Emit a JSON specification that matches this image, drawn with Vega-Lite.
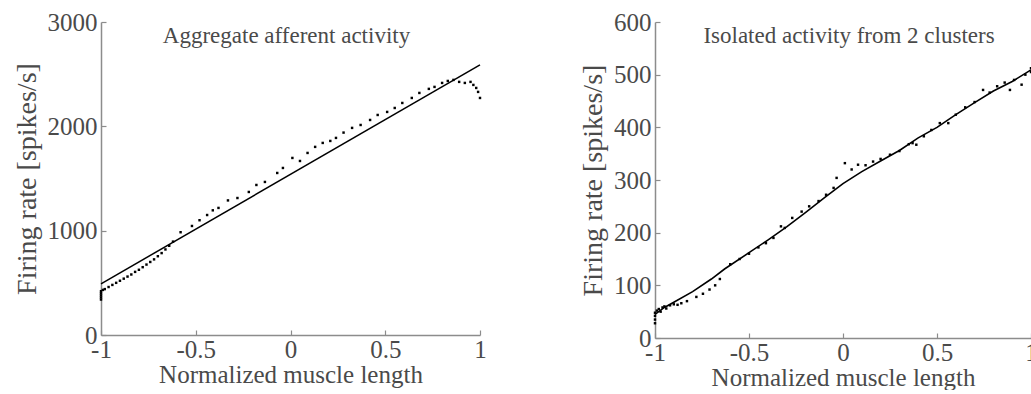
{
  "$schema": "https://vega.github.io/schema/vega-lite/v6.json",
  "background": "white",
  "padding": {"left": 13, "top": 10, "right": 0, "bottom": 0},
  "bounds": "flush",
  "spacing": 175,
  "config": {
    "view": {"stroke": null},
    "font": "Liberation Serif",
    "axis": {
      "grid": false,
      "domainColor": "#8c8c8c",
      "domainWidth": 1.5,
      "tickColor": "#8c8c8c",
      "tickWidth": 1.2,
      "tickSize": -5,
      "labelFont": "Liberation Serif",
      "labelFontSize": 25,
      "labelColor": "#4a4a4a",
      "labelFlush": false,
      "labelOverlap": false,
      "labelBound": false,
      "titleFont": "Liberation Serif",
      "titleFontWeight": "normal",
      "titleColor": "#4a4a4a"
    },
    "axisX": {"labelPadding": 7, "titleFontSize": 25, "titlePadding": 0, "labelExpr": "replace(datum.label, '\u2212', '-')"},
    "axisY": {"labelPadding": 9, "titleFontSize": 28, "titlePadding": 6},
    "title": {
      "font": "Liberation Serif",
      "fontSize": 23,
      "fontWeight": "normal",
      "color": "#4a4a4a",
      "anchor": "middle",
      "baseline": "top",
      "offset": -38
    }
  },
  "datasets": {
    "aggregateDots": [
      {"length": -1.0, "rate": 340}, {"length": -1.0, "rate": 360}, {"length": -1.0, "rate": 380},
      {"length": -1.0, "rate": 400}, {"length": -1.0, "rate": 420}, {"length": -0.99, "rate": 432},
      {"length": -0.98, "rate": 440}, {"length": -0.96, "rate": 460}, {"length": -0.94, "rate": 480},
      {"length": -0.92, "rate": 500}, {"length": -0.9, "rate": 520}, {"length": -0.88, "rate": 540},
      {"length": -0.86, "rate": 560}, {"length": -0.84, "rate": 580}, {"length": -0.82, "rate": 605},
      {"length": -0.8, "rate": 625}, {"length": -0.78, "rate": 650}, {"length": -0.76, "rate": 675},
      {"length": -0.74, "rate": 700}, {"length": -0.72, "rate": 725}, {"length": -0.7, "rate": 755},
      {"length": -0.68, "rate": 785}, {"length": -0.66, "rate": 820}, {"length": -0.64, "rate": 855},
      {"length": -0.62, "rate": 895}, {"length": -0.58, "rate": 985}, {"length": -0.52, "rate": 1045},
      {"length": -0.48, "rate": 1100}, {"length": -0.44, "rate": 1150}, {"length": -0.41, "rate": 1195},
      {"length": -0.38, "rate": 1218}, {"length": -0.33, "rate": 1290}, {"length": -0.28, "rate": 1313},
      {"length": -0.22, "rate": 1371}, {"length": -0.18, "rate": 1438}, {"length": -0.135, "rate": 1467},
      {"length": -0.07, "rate": 1553}, {"length": -0.04, "rate": 1601}, {"length": 0.01, "rate": 1697},
      {"length": 0.05, "rate": 1668}, {"length": 0.09, "rate": 1745}, {"length": 0.13, "rate": 1803},
      {"length": 0.17, "rate": 1841}, {"length": 0.21, "rate": 1860}, {"length": 0.24, "rate": 1889},
      {"length": 0.28, "rate": 1940}, {"length": 0.325, "rate": 1985}, {"length": 0.37, "rate": 2013},
      {"length": 0.42, "rate": 2061}, {"length": 0.46, "rate": 2109}, {"length": 0.51, "rate": 2138},
      {"length": 0.55, "rate": 2176}, {"length": 0.59, "rate": 2224}, {"length": 0.64, "rate": 2272},
      {"length": 0.68, "rate": 2320}, {"length": 0.73, "rate": 2359}, {"length": 0.76, "rate": 2378},
      {"length": 0.8, "rate": 2416}, {"length": 0.83, "rate": 2435}, {"length": 0.86, "rate": 2445},
      {"length": 0.89, "rate": 2426}, {"length": 0.92, "rate": 2416}, {"length": 0.95, "rate": 2426},
      {"length": 0.965, "rate": 2397}, {"length": 0.98, "rate": 2368}, {"length": 0.99, "rate": 2330},
      {"length": 1.0, "rate": 2272}
    ],
    "aggregateFit": [
      {"length": -1.0, "rate": 490},
      {"length": 1.0, "rate": 2590}
    ],
    "clusterDots": [
      {"length": -1.0, "rate": 28}, {"length": -1.0, "rate": 35}, {"length": -1.0, "rate": 42},
      {"length": -1.0, "rate": 48}, {"length": -0.99, "rate": 52}, {"length": -0.98, "rate": 55},
      {"length": -0.97, "rate": 50}, {"length": -0.96, "rate": 58}, {"length": -0.95, "rate": 60},
      {"length": -0.94, "rate": 56}, {"length": -0.92, "rate": 62}, {"length": -0.9, "rate": 64},
      {"length": -0.88, "rate": 63}, {"length": -0.86, "rate": 66}, {"length": -0.83, "rate": 70},
      {"length": -0.78, "rate": 78}, {"length": -0.745, "rate": 84}, {"length": -0.71, "rate": 92},
      {"length": -0.68, "rate": 100}, {"length": -0.655, "rate": 112}, {"length": -0.6, "rate": 140},
      {"length": -0.55, "rate": 150}, {"length": -0.5, "rate": 160}, {"length": -0.45, "rate": 172},
      {"length": -0.41, "rate": 180}, {"length": -0.37, "rate": 190}, {"length": -0.33, "rate": 212},
      {"length": -0.31, "rate": 209}, {"length": -0.27, "rate": 228}, {"length": -0.22, "rate": 240},
      {"length": -0.18, "rate": 250}, {"length": -0.13, "rate": 260}, {"length": -0.09, "rate": 272},
      {"length": -0.05, "rate": 285}, {"length": -0.034, "rate": 304}, {"length": 0.01, "rate": 332},
      {"length": 0.046, "rate": 320}, {"length": 0.08, "rate": 329}, {"length": 0.12, "rate": 328},
      {"length": 0.16, "rate": 335}, {"length": 0.2, "rate": 340}, {"length": 0.25, "rate": 348},
      {"length": 0.3, "rate": 355}, {"length": 0.35, "rate": 368}, {"length": 0.37, "rate": 370},
      {"length": 0.39, "rate": 367}, {"length": 0.43, "rate": 383}, {"length": 0.47, "rate": 395},
      {"length": 0.515, "rate": 408}, {"length": 0.56, "rate": 408}, {"length": 0.6, "rate": 424},
      {"length": 0.65, "rate": 438}, {"length": 0.7, "rate": 448}, {"length": 0.745, "rate": 471},
      {"length": 0.78, "rate": 466}, {"length": 0.82, "rate": 478}, {"length": 0.86, "rate": 485},
      {"length": 0.888, "rate": 471}, {"length": 0.91, "rate": 490}, {"length": 0.95, "rate": 481},
      {"length": 0.97, "rate": 500}, {"length": 1.0, "rate": 505}, {"length": 1.0, "rate": 512}
    ],
    "clusterTrend": [
      {"length": -1.0, "rate": 45}, {"length": -0.95, "rate": 58}, {"length": -0.9, "rate": 68},
      {"length": -0.8, "rate": 88}, {"length": -0.7, "rate": 112}, {"length": -0.63, "rate": 131},
      {"length": -0.5, "rate": 162}, {"length": -0.4, "rate": 186}, {"length": -0.3, "rate": 211},
      {"length": -0.2, "rate": 238}, {"length": -0.1, "rate": 266}, {"length": 0.0, "rate": 293},
      {"length": 0.1, "rate": 316}, {"length": 0.2, "rate": 336}, {"length": 0.3, "rate": 356},
      {"length": 0.4, "rate": 380}, {"length": 0.5, "rate": 400}, {"length": 0.6, "rate": 424},
      {"length": 0.7, "rate": 447}, {"length": 0.8, "rate": 469}, {"length": 0.9, "rate": 487},
      {"length": 1.0, "rate": 509}
    ]
  },
  "hconcat": [
    {
      "width": 379,
      "height": 313,
      "title": {"text": "Aggregate afferent activity", "dx": -4},
      "layer": [
        {
          "data": {"name": "aggregateFit"},
          "mark": {"type": "line", "color": "black", "strokeWidth": 1.5},
          "encoding": {
            "x": {"field": "length", "type": "quantitative"},
            "y": {"field": "rate", "type": "quantitative"}
          }
        },
        {
          "data": {"name": "aggregateDots"},
          "mark": {"type": "square", "color": "black", "size": 6, "opacity": 1},
          "encoding": {
            "x": {
              "field": "length", "type": "quantitative",
              "scale": {"domain": [-1, 1], "nice": false, "zero": false},
              "axis": {"title": "Normalized muscle length", "values": [-1, -0.5, 0, 0.5, 1], "format": "~g"}
            },
            "y": {
              "field": "rate", "type": "quantitative",
              "scale": {"domain": [0, 3000], "nice": false},
              "axis": {"title": "Firing rate [spikes/s]", "values": [0, 1000, 2000, 3000], "format": "d"}
            }
          }
        }
      ]
    },
    {
      "width": 376,
      "height": 316,
      "title": {"text": "Isolated activity from 2 clusters", "dx": 6},
      "layer": [
        {
          "data": {"name": "clusterTrend"},
          "mark": {"type": "line", "color": "black", "strokeWidth": 1.6},
          "encoding": {
            "x": {"field": "length", "type": "quantitative"},
            "y": {"field": "rate", "type": "quantitative"}
          }
        },
        {
          "data": {"name": "clusterDots"},
          "mark": {"type": "square", "color": "black", "size": 6, "opacity": 1},
          "encoding": {
            "x": {
              "field": "length", "type": "quantitative",
              "scale": {"domain": [-1, 1], "nice": false, "zero": false},
              "axis": {"title": "Normalized muscle length", "values": [-1, -0.5, 0, 0.5, 1], "format": "~g"}
            },
            "y": {
              "field": "rate", "type": "quantitative",
              "scale": {"domain": [0, 600], "nice": false},
              "axis": {"title": "Firing rate [spikes/s]", "values": [0, 100, 200, 300, 400, 500, 600], "format": "d"}
            }
          }
        }
      ]
    }
  ]
}
